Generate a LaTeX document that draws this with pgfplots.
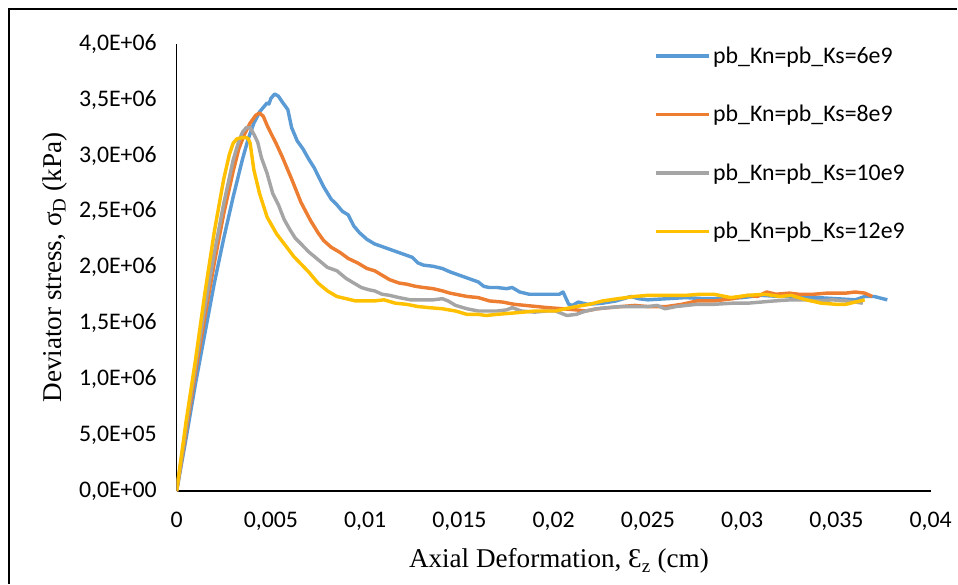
\documentclass[border=0pt]{standalone}
\usepackage{fontspec}
\setmainfont{Liberation Serif}
\newfontfamily\calib{Carlito}
\usepackage{pgfplots}
\pgfplotsset{compat=1.18}
\definecolor{cblue}{HTML}{5B9BD5}
\definecolor{corange}{HTML}{ED7D31}
\definecolor{cgray}{HTML}{A5A5A5}
\definecolor{cyellow}{HTML}{FFC000}
\begin{document}
\begin{tikzpicture}
\begin{axis}[
  name=ax,
  scale only axis, width=570pt, height=338.25pt,
  xmin=0, xmax=0.04, ymin=0, ymax=4e6,
  axis x line=bottom, axis y line=left,
  axis line style={-, line width=1pt, black},
  major tick length=0pt,
  xtick={0,0.005,0.01,0.015,0.02,0.025,0.03,0.035,0.04},
  xticklabels={0,{0,005},{0,01},{0,015},{0,02},{0,025},{0,03},{0,035},{0,04}},
  ytick={0,5e5,1e6,1.5e6,2e6,2.5e6,3e6,3.5e6,4e6},
  yticklabels={{0,0E+00},{5,0E+05},{1,0E+06},{1,5E+06},{2,0E+06},{2,5E+06},{3,0E+06},{3,5E+06},{4,0E+06}},
  scaled ticks=false,
  tick label style={font=\calib\fontsize{18}{21}\selectfont, text=black},
  xticklabel style={yshift=-12pt},
  yticklabel style={xshift=-11.5pt},
  xlabel={Axial Deformation, Ɛ\textsubscript{z} (cm)},
  ylabel={Deviator stress, σ\textsubscript{D} (kPa)},
  label style={font=\fontsize{20.5}{24}\selectfont},
  xlabel style={at={(rel axis cs:0.507,0)}, anchor=center, yshift=-53pt},
  ylabel style={at={(rel axis cs:0,0.5)}, anchor=center, yshift=92pt},
  legend style={draw=none, fill=none, at={(rel axis cs:0.633,1)}, anchor=north west,
    font=\calib\fontsize{18}{21}\selectfont, row sep=26.3pt, inner sep=0pt},
  legend cell align=left,
  legend image code/.code={\draw[#1] (0pt,0pt) -- (40pt,0pt);},
  every axis plot/.append style={line width=2.6pt, line join=round, no markers},
]
\addplot[cblue] coordinates {
(0,0) (0.0005,0.47e6) (0.001,0.96e6) (0.0015,1.41e6) (0.002,1.86e6) (0.0025,2.26e6)
(0.003,2.63e6) (0.0035,2.97e6) (0.0038,3.15e6) (0.0041,3.29e6) (0.0044,3.39e6)
(0.0046,3.43e6) (0.0048,3.47e6) (0.0049,3.46e6) (0.005,3.51e6) (0.0052,3.55e6)
(0.0054,3.53e6) (0.0056,3.48e6) (0.0059,3.41e6) (0.0061,3.25e6) (0.0064,3.13e6)
(0.0067,3.06e6) (0.0070,2.97e6) (0.0073,2.89e6) (0.0078,2.72e6) (0.0082,2.61e6)
(0.0085,2.56e6) (0.0088,2.50e6) (0.0091,2.47e6) (0.0094,2.37e6) (0.0097,2.31e6)
(0.0101,2.25e6) (0.0105,2.21e6) (0.011,2.18e6) (0.0115,2.15e6) (0.012,2.12e6)
(0.0125,2.09e6) (0.0128,2.04e6) (0.0131,2.02e6) (0.0136,2.01e6) (0.0141,1.99e6)
(0.0145,1.96e6) (0.015,1.93e6) (0.0155,1.90e6) (0.016,1.87e6) (0.0163,1.83e6)
(0.0166,1.82e6) (0.017,1.82e6) (0.0175,1.81e6) (0.0178,1.82e6) (0.0182,1.78e6)
(0.0187,1.76e6) (0.0195,1.76e6) (0.0203,1.76e6) (0.0205,1.78e6) (0.0208,1.67e6)
(0.021,1.66e6) (0.0213,1.69e6) (0.0218,1.67e6) (0.0226,1.68e6) (0.0233,1.70e6)
(0.0241,1.74e6) (0.0245,1.72e6) (0.025,1.71e6) (0.026,1.72e6) (0.027,1.73e6)
(0.028,1.72e6) (0.029,1.72e6) (0.030,1.73e6) (0.031,1.75e6) (0.032,1.74e6)
(0.033,1.74e6) (0.034,1.73e6) (0.035,1.72e6) (0.036,1.71e6) (0.0365,1.74e6)
(0.037,1.74e6) (0.0377,1.71e6)
};
\addlegendentry{pb\_Kn=pb\_Ks=6e9}
\addplot[corange] coordinates {
(0,0) (0.0005,0.53e6) (0.001,1.06e6) (0.0015,1.56e6) (0.002,2.04e6) (0.0025,2.48e6)
(0.003,2.86e6) (0.0033,3.06e6) (0.0036,3.19e6) (0.0039,3.29e6) (0.0042,3.36e6)
(0.0044,3.38e6) (0.0046,3.35e6) (0.0048,3.27e6) (0.005,3.20e6) (0.0053,3.10e6)
(0.0056,2.99e6) (0.0061,2.79e6) (0.0066,2.58e6) (0.0071,2.42e6) (0.0075,2.31e6)
(0.0078,2.24e6) (0.0082,2.18e6) (0.0087,2.13e6) (0.0091,2.08e6) (0.0096,2.04e6)
(0.0101,1.99e6) (0.0105,1.97e6) (0.0109,1.93e6) (0.0113,1.89e6) (0.0118,1.86e6)
(0.0122,1.85e6) (0.0127,1.83e6) (0.0131,1.82e6) (0.0136,1.81e6) (0.0141,1.79e6)
(0.0145,1.77e6) (0.0148,1.76e6) (0.0154,1.74e6) (0.016,1.73e6) (0.0166,1.70e6)
(0.0173,1.69e6) (0.0179,1.67e6) (0.0185,1.66e6) (0.0191,1.65e6) (0.0197,1.64e6)
(0.0205,1.63e6) (0.0212,1.62e6) (0.0217,1.61e6) (0.0223,1.63e6) (0.0229,1.64e6)
(0.0236,1.65e6) (0.0243,1.66e6) (0.025,1.65e6) (0.026,1.65e6) (0.0268,1.67e6)
(0.0276,1.70e6) (0.0285,1.70e6) (0.0295,1.72e6) (0.0303,1.75e6) (0.0308,1.74e6)
(0.0313,1.78e6) (0.0318,1.76e6) (0.0325,1.77e6) (0.033,1.76e6) (0.0338,1.76e6)
(0.0345,1.77e6) (0.035,1.77e6) (0.0355,1.77e6) (0.036,1.78e6) (0.0365,1.77e6)
(0.0369,1.74e6)
};
\addlegendentry{pb\_Kn=pb\_Ks=8e9}
\addplot[cgray] coordinates {
(0,0) (0.0005,0.57e6) (0.001,1.12e6) (0.0015,1.64e6) (0.002,2.13e6) (0.0025,2.57e6)
(0.003,2.96e6) (0.0033,3.13e6) (0.0035,3.21e6) (0.0037,3.25e6) (0.0039,3.25e6)
(0.0041,3.19e6) (0.0043,3.12e6) (0.0045,2.98e6) (0.0048,2.84e6) (0.0051,2.66e6)
(0.0054,2.56e6) (0.0057,2.43e6) (0.006,2.34e6) (0.0063,2.26e6) (0.0066,2.21e6)
(0.007,2.14e6) (0.0075,2.07e6) (0.008,2.00e6) (0.0085,1.97e6) (0.009,1.90e6)
(0.0094,1.86e6) (0.0098,1.82e6) (0.0102,1.80e6) (0.0105,1.79e6) (0.0109,1.76e6)
(0.0113,1.75e6) (0.0118,1.73e6) (0.0124,1.71e6) (0.013,1.71e6) (0.0136,1.71e6)
(0.0141,1.72e6) (0.0144,1.70e6) (0.0148,1.66e6) (0.0154,1.63e6) (0.016,1.61e6)
(0.0165,1.61e6) (0.017,1.61e6) (0.0175,1.62e6) (0.0178,1.64e6) (0.0183,1.61e6)
(0.019,1.60e6) (0.0196,1.61e6) (0.0201,1.61e6) (0.0204,1.59e6) (0.0207,1.57e6)
(0.0212,1.58e6) (0.0217,1.61e6) (0.0223,1.63e6) (0.0229,1.64e6) (0.0236,1.65e6)
(0.0243,1.65e6) (0.025,1.65e6) (0.0255,1.66e6) (0.0259,1.63e6) (0.0265,1.65e6)
(0.0276,1.67e6) (0.0285,1.67e6) (0.0295,1.68e6) (0.0303,1.68e6) (0.031,1.69e6)
(0.0317,1.70e6) (0.0326,1.71e6) (0.0333,1.71e6) (0.034,1.70e6) (0.0348,1.71e6)
(0.0355,1.70e6) (0.036,1.69e6) (0.0364,1.68e6)
};
\addlegendentry{pb\_Kn=pb\_Ks=10e9}
\addplot[cyellow] coordinates {
(0,0) (0.0005,0.62e6) (0.001,1.17e6) (0.0015,1.77e6) (0.002,2.32e6) (0.0025,2.79e6)
(0.0028,3.01e6) (0.003,3.11e6) (0.0032,3.15e6) (0.0035,3.16e6) (0.0037,3.16e6)
(0.0038,3.15e6) (0.0039,3.11e6) (0.0041,2.87e6) (0.0044,2.66e6) (0.0048,2.45e6)
(0.0053,2.30e6) (0.0058,2.19e6) (0.0062,2.10e6) (0.0066,2.03e6) (0.007,1.96e6)
(0.0075,1.86e6) (0.008,1.79e6) (0.0085,1.74e6) (0.009,1.72e6) (0.0095,1.70e6)
(0.0099,1.70e6) (0.0105,1.70e6) (0.011,1.71e6) (0.0116,1.68e6) (0.0122,1.67e6)
(0.0128,1.65e6) (0.0134,1.64e6) (0.0141,1.63e6) (0.0148,1.61e6) (0.0154,1.58e6)
(0.016,1.58e6) (0.0164,1.57e6) (0.017,1.58e6) (0.0177,1.59e6) (0.0184,1.60e6)
(0.019,1.61e6) (0.0196,1.61e6) (0.0201,1.61e6) (0.0206,1.63e6) (0.0212,1.65e6)
(0.0219,1.67e6) (0.0226,1.70e6) (0.0234,1.72e6) (0.0243,1.74e6) (0.025,1.75e6)
(0.026,1.75e6) (0.027,1.75e6) (0.0278,1.76e6) (0.0285,1.76e6) (0.0294,1.73e6)
(0.0303,1.75e6) (0.0312,1.76e6) (0.032,1.74e6) (0.0326,1.75e6) (0.0334,1.71e6)
(0.0342,1.68e6) (0.035,1.67e6) (0.0355,1.67e6) (0.036,1.69e6) (0.0365,1.71e6)
};
\addlegendentry{pb\_Kn=pb\_Ks=12e9}
\end{axis}
\draw[line width=1.3pt, black] ([xshift=-126.75pt,yshift=-70pt]ax.south west) -- ([xshift=-126.75pt,yshift=26.25pt]ax.north west) -- ([xshift=20pt,yshift=26.25pt]ax.north east);
\path[use as bounding box] ([xshift=-133.5pt,yshift=-65.25pt]ax.south west) rectangle ([xshift=15pt,yshift=33pt]ax.north east);
\end{tikzpicture}
\end{document}
